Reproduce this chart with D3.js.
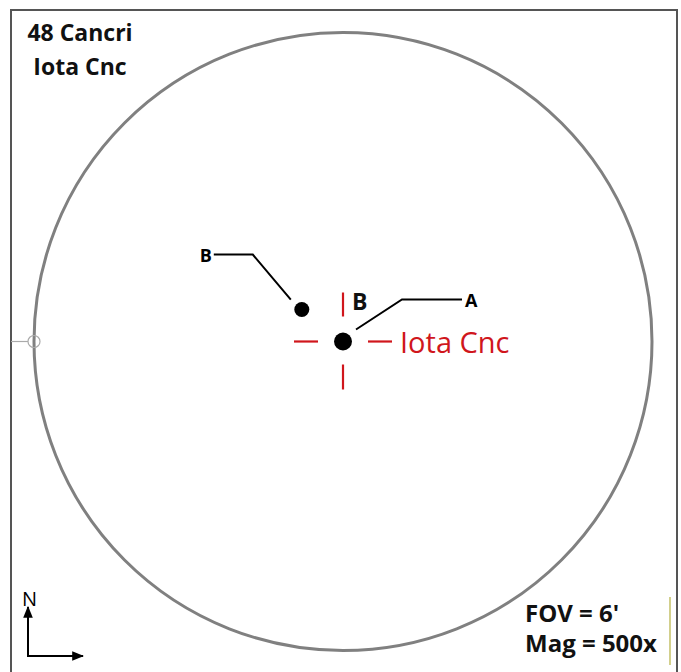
<!DOCTYPE html>
<html><head><meta charset="utf-8">
<script src="https://cdn.jsdelivr.net/npm/d3@7"></script>
<style>body{margin:0;background:#fff;}svg{display:block;}</style>
</head><body>
<script>
// Data: stars in arcminutes relative to field centre (east-right, north-up)
const starNames = ["A", "B"];
const starX = [0, -0.40];
const starY = [0, 0.31];
const starSize = [9, 7.5];
const fovArcmin = 6;
const titleLines = ["48 Cancri", "Iota Cnc"];
const infoLines = ["FOV = 6'", "Mag = 500x"];
const targetName = "Iota Cnc";

const W = 681, H = 672;
const cx = 343, cy = 341.5, R = 309;
const svg = d3.select("body").append("svg").attr("width", W).attr("height", H);

const x = d3.scaleLinear().domain([-fovArcmin/2, fovArcmin/2]).range([cx - R, cx + R]);
const y = d3.scaleLinear().domain([-fovArcmin/2, fovArcmin/2]).range([cy + R, cy - R]);

// frame (open at bottom)
svg.append("path").attr("d", `M11,${H} L11,10 L677,10 L677,${H}`)
  .attr("fill", "none").attr("stroke", "#555").attr("stroke-width", 2);

// field circle
svg.append("circle").attr("cx", x(0)).attr("cy", y(0)).attr("r", x(fovArcmin/2) - x(0))
  .attr("fill", "none").attr("stroke", "#808080").attr("stroke-width", 3);

// left marker
svg.append("line").attr("x1", 11).attr("x2", x(-fovArcmin/2) - 6).attr("y1", y(0)).attr("y2", y(0))
  .attr("stroke", "#aaa").attr("stroke-width", 1.2);
svg.append("circle").attr("cx", x(-fovArcmin/2)).attr("cy", y(0)).attr("r", 6)
  .attr("fill", "none").attr("stroke", "#aaa").attr("stroke-width", 1.2);

// red crosshair around target
const tx = x(starX[0]), ty = y(starY[0]);
const red = "#d0161c";
const segs = [[0, -49, 0, -25], [0, 23, 0, 48], [-49, 0, -25, 0], [25, 0, 49, 0]];
svg.selectAll(".cross").data(segs).enter().append("line")
  .attr("x1", d => tx + d[0]).attr("y1", d => ty + d[1])
  .attr("x2", d => tx + d[2]).attr("y2", d => ty + d[3])
  .attr("stroke", red).attr("stroke-width", 2.2);

// stars
const stars = starNames.map((n, i) => ({name: n, x: starX[i], y: starY[i], r: starSize[i]}));
svg.selectAll(".star").data(stars).enter().append("circle")
  .attr("cx", d => x(d.x)).attr("cy", d => y(d.y)).attr("r", d => d.r).attr("fill", "#000");

// leader lines
const sA = stars[0], sB = stars[1];
svg.append("polyline").attr("fill", "none").attr("stroke", "#000").attr("stroke-width", 2)
  .attr("points", `${x(sA.x)+13},${y(sA.y)-12} ${x(sA.x)+59},${y(sA.y)-42} ${x(sA.x)+119},${y(sA.y)-42}`);
svg.append("text").attr("x", x(sA.x) + 122).attr("y", y(sA.y) - 35).text("A")
  .attr("font-family", "Open Sans").attr("font-weight", "bold").attr("font-size", 18);

svg.append("polyline").attr("fill", "none").attr("stroke", "#000").attr("stroke-width", 2)
  .attr("points", `${x(sB.x)-11},${y(sB.y)-10} ${x(sB.x)-49},${y(sB.y)-55} ${x(sB.x)-88},${y(sB.y)-55}`);
svg.append("text").attr("x", x(sB.x) - 90).attr("y", y(sB.y) - 48).attr("text-anchor", "end").text("B")
  .attr("font-family", "Open Sans").attr("font-weight", "bold").attr("font-size", 18);

// "B" near crosshair
svg.append("text").attr("x", tx + 9).attr("y", ty - 32).text("B")
  .attr("font-family", "Open Sans").attr("font-weight", "bold").attr("font-size", 23).attr("fill", "#111");

// target label
svg.append("text").attr("x", tx + 57).attr("y", ty + 11).text(targetName)
  .attr("font-family", "Open Sans").attr("font-size", 29).attr("fill", red);

// title
svg.selectAll(".title").data(titleLines).enter().append("text")
  .attr("x", 80).attr("y", (d, i) => 41 + i * 34).attr("text-anchor", "middle").text(d => d)
  .attr("font-family", "Open Sans").attr("font-weight", "bold").attr("font-size", 23).attr("fill", "#111");

// info
svg.selectAll(".info").data(infoLines).enter().append("text")
  .attr("x", 525).attr("y", (d, i) => 622 + i * 30).text(d => d)
  .attr("font-family", "Open Sans").attr("font-weight", "bold").attr("font-size", 24).attr("fill", "#111");
svg.append("line").attr("x1", 670).attr("x2", 670).attr("y1", 597).attr("y2", 665)
  .attr("stroke", "#b5b040").attr("stroke-width", 1.2);

// compass
const defs = svg.append("defs");
defs.append("marker").attr("id", "arr").attr("viewBox", "0 0 10 10").attr("refX", 9).attr("refY", 5)
  .attr("markerWidth", 6).attr("markerHeight", 6).attr("orient", "auto")
  .append("path").attr("d", "M0,1 L10,5 L0,9 Z").attr("fill", "#000");
svg.append("line").attr("x1", 28).attr("y1", 656).attr("x2", 28).attr("y2", 607)
  .attr("stroke", "#000").attr("stroke-width", 2).attr("marker-end", "url(#arr)");
svg.append("line").attr("x1", 27).attr("y1", 656).attr("x2", 83).attr("y2", 656)
  .attr("stroke", "#000").attr("stroke-width", 2).attr("marker-end", "url(#arr)");
svg.append("text").attr("x", 22).attr("y", 606).text("N")
  .attr("font-family", "Open Sans").attr("font-size", 20).attr("fill", "#000");
</script>
</body></html>
